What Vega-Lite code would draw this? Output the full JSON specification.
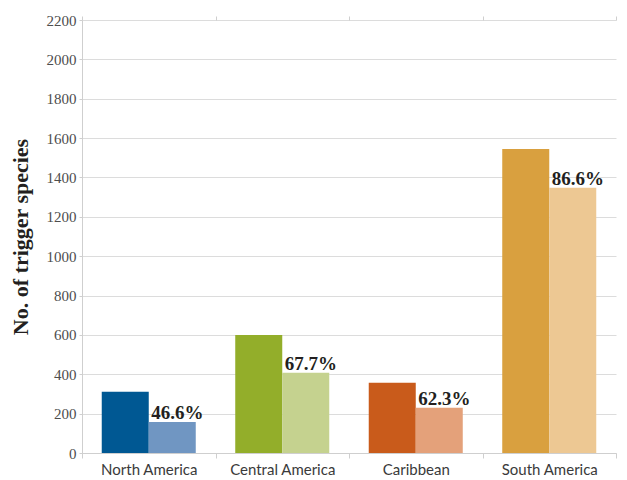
{
  "$schema": "https://vega.github.io/schema/vega-lite/v6.json",
  "width": 534,
  "height": 433,
  "autosize": {"type": "none"},
  "padding": {"left": 82, "top": 20, "right": 11, "bottom": 27},
  "background": "white",
  "config": {
    "view": {"stroke": null},
    "axis": {"domainColor": "#cfcfcf", "tickColor": "#cfcfcf", "gridColor": "#dcdcdc"}
  },
  "data": {
    "values": [
      {"region": "North America", "series": "all", "shade": "North America all", "value": 311, "label": ""},
      {"region": "North America", "series": "sub", "shade": "North America sub", "value": 158, "label": "46.6%"},
      {"region": "Central America", "series": "all", "shade": "Central America all", "value": 600, "label": ""},
      {"region": "Central America", "series": "sub", "shade": "Central America sub", "value": 408, "label": "67.7%"},
      {"region": "Caribbean", "series": "all", "shade": "Caribbean all", "value": 357, "label": ""},
      {"region": "Caribbean", "series": "sub", "shade": "Caribbean sub", "value": 230, "label": "62.3%"},
      {"region": "South America", "series": "all", "shade": "South America all", "value": 1545, "label": ""},
      {"region": "South America", "series": "sub", "shade": "South America sub", "value": 1348, "label": "86.6%"}
    ]
  },
  "encoding": {
    "x": {
      "field": "region",
      "type": "nominal",
      "sort": ["North America", "Central America", "Caribbean", "South America"],
      "scale": {"paddingInner": 0, "paddingOuter": 0}
    },
    "xOffset": {
      "field": "series",
      "type": "nominal",
      "sort": ["all", "sub"],
      "scale": {"paddingInner": 0, "paddingOuter": 0.42}
    },
    "y": {
      "field": "value",
      "type": "quantitative",
      "scale": {"domain": [0, 2200], "nice": false},
      "axis": {
        "values": [0, 200, 400, 600, 800, 1000, 1200, 1400, 1600, 1800, 2000, 2200],
        "format": "d",
        "title": "No. of trigger species",
        "titleFont": "Liberation Serif",
        "titleFontSize": 22,
        "titleFontWeight": "bold",
        "titleColor": "#231f20",
        "titlePadding": 14,
        "labelFont": "Liberation Serif",
        "labelFontSize": 15,
        "labelColor": "#4d4d4d",
        "labelPadding": 3,
        "tickSize": 3,
        "grid": true
      }
    }
  },
  "layer": [
    {
      "mark": {"type": "bar"},
      "encoding": {
        "x": {
          "field": "region",
          "type": "nominal",
          "sort": ["North America", "Central America", "Caribbean", "South America"],
          "axis": {
            "orient": "bottom",
            "title": null,
            "labelAngle": 0,
            "labelFont": "Lato",
            "labelFontSize": 15,
            "labelColor": "#3a3a3a",
            "labelPadding": 4,
            "tickBand": "extent",
            "tickSize": 5
          }
        },
        "color": {
          "field": "shade",
          "type": "nominal",
          "legend": null,
          "scale": {
            "domain": [
              "North America all", "North America sub",
              "Central America all", "Central America sub",
              "Caribbean all", "Caribbean sub",
              "South America all", "South America sub"
            ],
            "range": [
              "#005893", "#7096c2",
              "#93ae2a", "#c5d28f",
              "#c95b1b", "#e4a17a",
              "#d9a03f", "#edc893"
            ]
          }
        }
      }
    },
    {
      "mark": {
        "type": "text",
        "align": "left",
        "baseline": "alphabetic",
        "dx": -21,
        "dy": -3,
        "font": "Liberation Serif",
        "fontSize": 19,
        "fontWeight": "bold",
        "color": "#231f20"
      },
      "encoding": {
        "x": {
          "field": "region",
          "type": "nominal",
          "sort": ["North America", "Central America", "Caribbean", "South America"],
          "axis": {
            "orient": "top",
            "title": null,
            "labels": false,
            "domain": false,
            "tickBand": "extent",
            "tickSize": 4
          }
        },
        "text": {"field": "label"}
      }
    }
  ],
  "resolve": {"axis": {"x": "independent"}}
}
